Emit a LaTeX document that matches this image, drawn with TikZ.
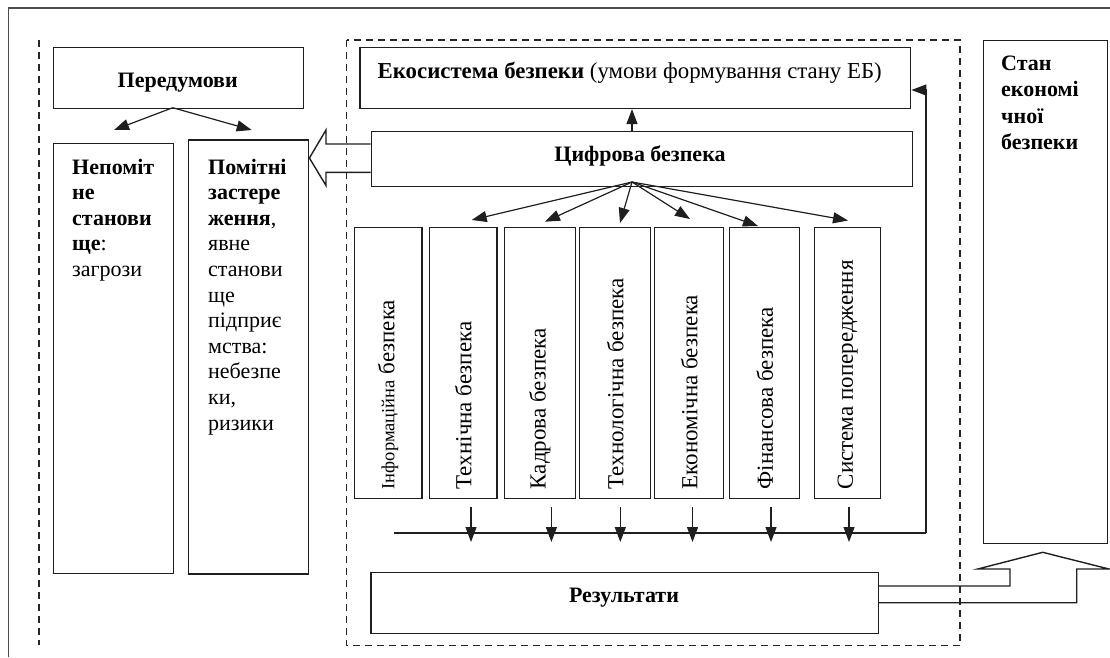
\documentclass[tikz,border=0pt]{standalone}
\usepackage{fontspec}
\setmainfont{Liberation Serif}
\usetikzlibrary{arrows.meta}
\begin{document}
\begin{tikzpicture}[x=1pt,y=-1pt,
  box/.style={draw=black!88, line width=1.4pt, inner sep=0pt, anchor=north west},
  txt/.style={inner sep=0pt, font=\fontsize{22}{25.6}\selectfont},
  vtxt/.style={inner sep=0pt, rotate=90, anchor=west, font=\fontsize{23}{26}\selectfont},
  arr/.style={draw=black!88, line width=1.2pt, -{Triangle[length=15pt,width=11pt]}},
  dsh/.style={draw=black!85, line width=1.1pt, dash pattern=on 7pt off 5pt},
  hollow/.style={draw=black!88, line width=1.4pt, line join=miter}]
\useasboundingbox (0,0) rectangle (1110,657);
% outer frame (left and top only visible)
\draw[draw=black!70, line width=1.5pt] (8.3,657) -- (8.3,8) -- (1110,8);
% dashed guides
\draw[dsh] (39,40) -- (39,645);
\draw[dsh] (346.5,40) rectangle (960,645.7);
% boxes
\node[box, minimum width=250pt, minimum height=61pt] (pre) at (52.7,46.7) {};
\node[box, minimum width=120pt, minimum height=430.3pt] (nep) at (53,142.7) {};
\node[box, minimum width=120pt, minimum height=434pt] (pom) at (188,139.3) {};
\node[box, minimum width=550.7pt, minimum height=61pt] (eco) at (359.3,46.7) {};
\node[box, minimum width=541pt, minimum height=55pt] (cyf) at (370.7,130.7) {};
\node[box, minimum width=67.8pt, minimum height=271pt] (v1) at (353.6,227) {};
\node[box, minimum width=67.9pt, minimum height=271pt] (v2) at (428.5,227) {};
\node[box, minimum width=71.5pt, minimum height=271pt] (v3) at (503.5,227) {};
\node[box, minimum width=71pt, minimum height=271pt] (v4) at (579,227) {};
\node[box, minimum width=69pt, minimum height=271pt] (v5) at (654,227) {};
\node[box, minimum width=70pt, minimum height=271pt] (v6) at (729,227) {};
\node[box, minimum width=66pt, minimum height=271pt] (v7) at (814,227) {};
\node[box, minimum width=507.3pt, minimum height=61.2pt] (res) at (370.4,571.5) {};
\node[box, minimum width=124.3pt, minimum height=503.5pt] (stan) at (982.7,39.5) {};
% texts
\node[txt, anchor=base] (preT) at (177.7,87) {\bfseries Передумови};
\node[txt, anchor=base, font=\fontsize{22.8}{26}\selectfont] (ecoT) at (629.7,78) {\textbf{Екосистема безпеки} (умови формування стану ЕБ)};
\node[txt, anchor=base] (cyfT) at (640,161.7) {\bfseries Цифрова безпека};
\node[txt, anchor=base] (resT) at (624,602) {\bfseries Результати};
\node[txt, anchor=base west] (nepT) at (72,174) {\begin{tabular}[t]{@{}l@{}}\textbf{Непоміт}\\\textbf{не}\\\textbf{станови}\\\textbf{ще}:\\загрози\end{tabular}};
\node[txt, anchor=base west] (pomT) at (208,174) {\begin{tabular}[t]{@{}l@{}}\textbf{Помітні}\\\textbf{застере}\\\textbf{ження},\\явне\\станови\\ще\\підприє\\мства:\\небезпе\\ки,\\ризики\end{tabular}};
\node[txt, anchor=base west, font=\fontsize{22}{26.5}\selectfont] (stanT) at (1001,70) {\begin{tabular}[t]{@{}l@{}}\textbf{Стан}\\\textbf{економі}\\\textbf{чної}\\\textbf{безпеки}\end{tabular}};
\node[vtxt] (v1T) at ([yshift=10pt]v1.south) {{\fontsize{18.5}{20}\selectfont Інформаційна} безпека};
\node[vtxt] (v2T) at ([yshift=10pt]v2.south) {Технічна безпека};
\node[vtxt] (v3T) at ([yshift=10pt]v3.south) {Кадрова безпека};
\node[vtxt] (v4T) at ([yshift=10pt]v4.south) {Технологічна безпека};
\node[vtxt] (v5T) at ([yshift=10pt]v5.south) {Економічна безпека};
\node[vtxt] (v6T) at ([yshift=10pt]v6.south) {Фінансова безпека};
\node[vtxt] (v7T) at ([yshift=10pt]v7.south) {Система попередження};
% Передумови arrows
\coordinate (preO) at (172.7,107.7);
\coordinate (preL) at (114,130);
\coordinate (preR) at (251.7,130);
\draw[arr] (preO) -- (preL);
\draw[arr] (preO) -- (preR);
% Цифрова -> Екосистема
\coordinate (fan) at (632,182);
\draw[arr] (cyf.north -| fan) -- (eco.south -| fan);
% fan arrows
\coordinate (t2) at (471.7,220);
\coordinate (t3) at (545,221.7);
\coordinate (t4) at (620,223);
\coordinate (t5) at (690,219);
\coordinate (t6) at (758,226);
\coordinate (t7) at (848,220.5);
\foreach \t in {t2,t3,t4,t5,t6,t7} \draw[arr] (fan) -- (\t);
% bus and down arrows
\coordinate (busL) at (394,533);
\coordinate (busR) at (926,533);
\coordinate (fbk) at (926,90);
\draw[draw=black!88, line width=1.2pt] (busL) -- (busR);
\draw[arr] (busR) -- (fbk) -- (eco.east |- fbk);
\foreach \x in {471,551.4,620.3,692.5,771,849} \draw[arr] (\x,507) -- (\x,542);
% hollow arrow Цифрова -> Помітні
\draw[hollow] (cyf.west |- 0,144) -- (326,144) -- (326,130) -- (pom.east |- 0,158) -- (326,185.5) -- (326,172.3) -- (cyf.west |- 0,172.3);
% hollow arrow Результати -> Стан
\draw[hollow] (res.east |- 0,586) -- (1010,586) -- (1010,569) -- (977.7,569) -- (1042.7,552.3) -- (1109,569) -- (1076.7,569) -- (1076.7,602.7) -- (res.east |- 0,602.7);
\end{tikzpicture}
\end{document}
